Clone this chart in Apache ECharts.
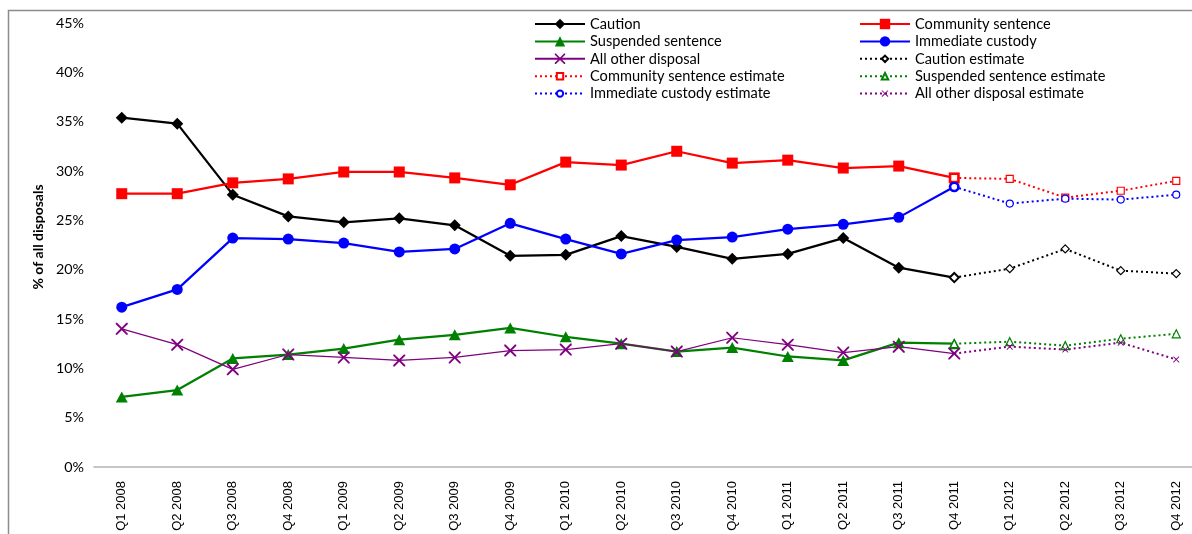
<!DOCTYPE html>
<html>
<head>
<meta charset="utf-8">
<script src="https://cdn.jsdelivr.net/npm/echarts@6/dist/echarts.min.js"></script>
<style>
  html, body { margin: 0; padding: 0; background: #fff; }
  #chart { width: 1192px; height: 534px; }
</style>
</head>
<body>
<div id="chart"></div>
<script>
// Quarters shown on the category axis
const quarters = [
  'Q1 2008', 'Q2 2008', 'Q3 2008', 'Q4 2008',
  'Q1 2009', 'Q2 2009', 'Q3 2009', 'Q4 2009',
  'Q1 2010', 'Q2 2010', 'Q3 2010', 'Q4 2010',
  'Q1 2011', 'Q2 2011', 'Q3 2011', 'Q4 2011',
  'Q1 2012', 'Q2 2012', 'Q3 2012', 'Q4 2012'
];

// Recorded shares of all disposals (%), Q1 2008 - Q4 2011
const caution   = [35.4, 34.8, 27.6, 25.4, 24.8, 25.2, 24.5, 21.4, 21.5, 23.4, 22.3, 21.1, 21.6, 23.2, 20.2, 19.2];
const community = [27.7, 27.7, 28.8, 29.2, 29.9, 29.9, 29.3, 28.6, 30.9, 30.6, 32.0, 30.8, 31.1, 30.3, 30.5, 29.3];
const suspended = [7.1, 7.8, 11.0, 11.4, 12.0, 12.9, 13.4, 14.1, 13.2, 12.5, 11.7, 12.1, 11.2, 10.8, 12.6, 12.5];
const custody   = [16.2, 18.0, 23.2, 23.1, 22.7, 21.8, 22.1, 24.7, 23.1, 21.6, 23.0, 23.3, 24.1, 24.6, 25.3, 28.4];
const otherDisp = [14.0, 12.4, 9.9, 11.4, 11.1, 10.8, 11.1, 11.8, 11.9, 12.5, 11.7, 13.1, 12.4, 11.6, 12.2, 11.5];

// Estimates (%), Q4 2011 - Q4 2012 (first point joins the recorded series)
const cautionEst   = [19.2, 20.1, 22.1, 19.9, 19.6];
const communityEst = [29.3, 29.2, 27.3, 28.0, 29.0];
const suspendedEst = [12.5, 12.7, 12.3, 13.0, 13.5];
const custodyEst   = [28.4, 26.7, 27.2, 27.1, 27.6];
const otherDispEst = [11.5, 12.2, 11.9, 12.6, 10.9];

// Y axis ticks
const yTicks = { min: 0, max: 45, step: 5 };

const FONT = 'Lato';
// thin "x" cross marker
const X_SYMBOL = 'path://M0,0L1.1,0L5,3.9L8.9,0L10,0L10,1.1L6.1,5L10,8.9L10,10L8.9,10L5,6.1L1.1,10L0,10L0,8.9L3.9,5L0,1.1Z';

// pad an estimate series so it starts at Q4 2011
const estStart = quarters.length - cautionEst.length;
const padEst = arr => new Array(estStart).fill(null).concat(arr);

function solid(name, data, color, symbol, size, width) {
  return {
    name, type: 'line', data, symbol, symbolSize: size, z: 3,
    lineStyle: { color, width: width || 2.25 },
    itemStyle: { color },
    emphasis: { disabled: true }
  };
}
function estimate(name, data, color, symbol, size) {
  const isX = symbol === X_SYMBOL;
  return {
    name, type: 'line', data: padEst(data), symbol, symbolSize: size, z: 4,
    lineStyle: { color, width: 2, type: [2, 3] },
    itemStyle: isX ? { color } : { color: '#fff', borderColor: color, borderWidth: 1.2 },
    emphasis: { disabled: true }
  };
}

const series = [
  solid('Caution', caution, '#000000', 'diamond', 12),
  solid('Community sentence', community, '#ff0000', 'rect', 11),
  solid('Suspended sentence', suspended, '#008000', 'triangle', [12, 11]),
  solid('Immediate custody', custody, '#0000ff', 'circle', 11),
  solid('All other disposal', otherDisp, '#800080', X_SYMBOL, 12, 1.25),
  estimate('Caution estimate', cautionEst, '#000000', 'diamond', 8),
  estimate('Community sentence estimate', communityEst, '#ff0000', 'rect', 7),
  estimate('Suspended sentence estimate', suspendedEst, '#008000', 'triangle', 8),
  estimate('Immediate custody estimate', custodyEst, '#0000ff', 'circle', 7),
  estimate('All other disposal estimate', otherDispEst, '#800080', X_SYMBOL, 6)
];

// Legend in two columns; recorded entries use larger markers than estimates
const ROW = 17.4;
const ROW0 = 24;
function legendBlock(left, firstRow, itemHeight, names) {
  return {
    orient: 'vertical', left, top: ROW0 + firstRow * ROW - ROW / 2,
    padding: 0, itemWidth: 50, itemHeight, itemGap: 0,
    selectedMode: false,
    textStyle: { fontFamily: FONT, fontSize: 14.6, lineHeight: ROW, color: '#000' },
    data: names
  };
}

const chart = echarts.init(document.getElementById('chart'), null, { renderer: 'canvas' });
chart.setOption({
  animation: false,
  backgroundColor: '#ffffff',
  grid: { left: 94, top: 23, height: 444, width: 1110, outerBoundsMode: 'none' },
  legend: [
    legendBlock(534, 0, 13, ['Caution', 'Suspended sentence', 'All other disposal']),
    legendBlock(534, 3, 8, ['Community sentence estimate', 'Immediate custody estimate']),
    legendBlock(859, 0, 13, ['Community sentence', 'Immediate custody']),
    legendBlock(859, 2, 8, ['Caution estimate', 'Suspended sentence estimate', 'All other disposal estimate'])
  ],
  xAxis: {
    type: 'category', data: quarters, boundaryGap: true,
    axisLine: { lineStyle: { color: '#b3b3b3', width: 1.5 } },
    axisTick: { show: false },
    axisLabel: { rotate: 90, margin: 14, fontFamily: 'Liberation Sans', fontSize: 13, color: '#000', interval: 0 },
    splitLine: { show: false }
  },
  yAxis: {
    type: 'value', min: yTicks.min, max: yTicks.max, interval: yTicks.step,
    axisLine: { show: false }, axisTick: { show: false }, splitLine: { show: false },
    axisLabel: { formatter: '{value}%', margin: 10, fontFamily: FONT, fontSize: 14.3, color: '#000' }
  },
  graphic: [
    {
      type: 'rect', silent: true,
      shape: { x: 8.5, y: 10.5, width: 1300, height: 700 },
      style: { fill: 'none', stroke: '#8c8c8c', lineWidth: 1.5 }
    },
    {
      type: 'text', silent: true, x: 38, y: 237, rotation: Math.PI / 2,
      style: {
        text: '% of all disposals', fontFamily: FONT, fontSize: 14, fontWeight: 'bold',
        fill: '#000', align: 'center', verticalAlign: 'middle'
      }
    }
  ],
  series
});
</script>
</body>
</html>
